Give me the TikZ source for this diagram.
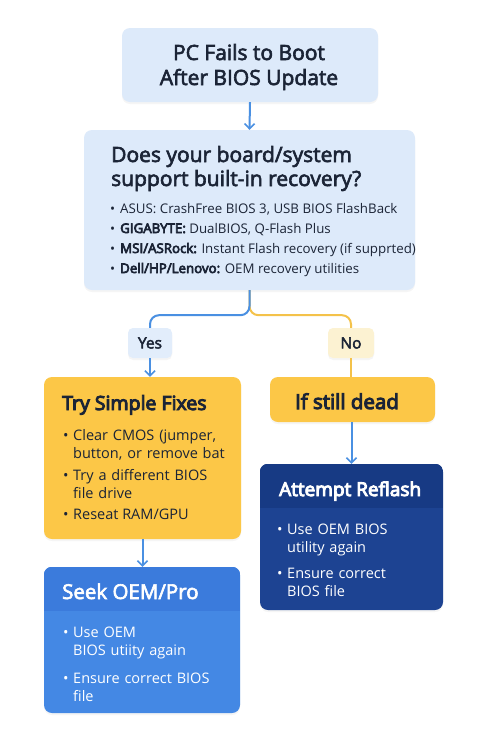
\documentclass[tikz,border=0pt]{standalone}
\usepackage{fontspec}
\setmainfont{Open Sans}
\newfontfamily\med[FakeBold=3]{Open Sans}
\newfontfamily\semi[FakeBold=5]{Open Sans}
\usetikzlibrary{arrows.meta,calc,shadows}
\definecolor{txt}{HTML}{1B2436}
\definecolor{lblue}{HTML}{DDEAFA}
\definecolor{yesbg}{HTML}{E2EDFB}
\definecolor{nobg}{HTML}{FCF2D2}
\definecolor{yel}{HTML}{FCC747}
\definecolor{yline}{HTML}{F4C24A}
\definecolor{bline}{HTML}{4A90E2}
\definecolor{dblue}{HTML}{1D4392}
\definecolor{dbluehd}{HTML}{173A84}
\definecolor{mblue}{HTML}{4488E4}
\definecolor{mbluehd}{HTML}{3B7BDC}
\tikzset{
  box/.style={rounded corners=8pt, inner sep=0pt, draw=none, drop shadow={opacity=0.08, shadow xshift=0pt, shadow yshift=-2pt}},
  tx/.style={inner sep=0pt, anchor=base west, text=txt},
  wtx/.style={inner sep=0pt, anchor=base west, text=white},
  barrow/.style={draw=bline, line width=2pt, -{Straight Barb[length=5pt,width=10pt,line width=1.6pt]}},
  bln/.style={draw=bline, line width=2pt},
  yln/.style={draw=yline, line width=2pt},
}
\newcommand{\bul}{\makebox[10pt][l]{\textbullet}}
\begin{document}
\begin{tikzpicture}[x=1pt,y=-1pt]
\useasboundingbox (0,0) rectangle (500,750);
\fill[white] (0,0) rectangle (500,750);

% top box
\node[box, fill=lblue, minimum width=256pt, minimum height=74pt] (top) at (250,65) {};
\node[inner sep=0pt, text=txt, align=center, font=\fontsize{21}{25}\selectfont\med, anchor=base] (toptx) at (249,85) {PC Fails to Boot\\After BIOS Update};

% question box
\node[box, fill=lblue, minimum width=331pt, minimum height=160pt] (q) at (249.5,210) {};
\node[tx, font=\fontsize{21}{23}\selectfont\med] (qtx) at (111,162) {Does your board/system};
\node[tx, font=\fontsize{21}{23}\selectfont\med] (qtx2) at (111,186) {support built-in recovery?};
\node[tx, font=\fontsize{13.3}{15}\selectfont] (q1) at (110,213) {\bul ASUS: CrashFree BIOS 3, USB BIOS FlashBack};
\node[tx, font=\fontsize{13.3}{15}\selectfont] (q2) at (110,233) {\bul{\semi GIGABYTE:} DualBIOS, Q-Flash Plus};
\node[tx, font=\fontsize{13.3}{15}\selectfont] (q3) at (110,253) {\bul{\semi MSI/ASRock:} Instant Flash recovery (if supprted)};
\node[tx, font=\fontsize{13.3}{15}\selectfont] (q4) at (110,273) {\bul{\semi Dell/HP/Lenovo:} OEM recovery utilities};

% yes / no labels
\node[box, rounded corners=5pt, fill=yesbg, minimum width=44pt, minimum height=30pt, text=txt, font=\fontsize{15.5}{18}\selectfont\med] (yes) at (150,343) {Yes};
\node[box, rounded corners=5pt, fill=nobg, minimum width=46pt, minimum height=30pt, text=txt, font=\fontsize{15.5}{18}\selectfont\med] (no) at (351,343) {No};

% try simple fixes
\node[box, fill=yel, minimum width=197pt, minimum height=162pt] (try) at (142.5,458) {};
\node[tx, font=\fontsize{19.5}{22}\selectfont\semi] (trytx) at (62,410) {Try Simple Fixes};
\node[tx, font=\fontsize{14.5}{18}\selectfont, text width=170pt, align=left] (t1) at (63,440) {\bul Clear CMOS (jumper,\\\hspace*{10pt}button, or remove bat};
\node[tx, font=\fontsize{14.5}{18}\selectfont, text width=170pt, align=left] (t2) at (63,480) {\bul Try a different BIOS\\\hspace*{10pt}file drive};
\node[tx, font=\fontsize{14.5}{18}\selectfont] (t3) at (63,519) {\bul Reseat RAM/GPU};

% if still dead
\node[box, fill=yel, minimum width=165pt, minimum height=45pt] (dead) at (352.5,399.5) {};
\node[inner sep=0pt, text=txt, font=\fontsize{20.5}{24}\selectfont\semi, anchor=base] (deadtx) at (347,409) {If still dead};

% attempt reflash
\node[box, fill=dblue, minimum width=183pt, minimum height=146pt] (att) at (351.5,537) {};
\begin{scope}
\clip[rounded corners=8pt] (att.north west) rectangle (att.south east);
\fill[dbluehd] (att.north west) rectangle ($(att.north east)+(0,44)$);
\end{scope}
\node[wtx, font=\fontsize{19}{22}\selectfont\semi] (atttx) at (279,496) {Attempt Reflash};
\node[wtx, font=\fontsize{14.5}{18}\selectfont, text width=160pt, align=left] (a1) at (277,534) {\bul Use OEM BIOS\\\hspace*{10pt}utility again};
\node[wtx, font=\fontsize{14.5}{18}\selectfont, text width=160pt, align=left] (a2) at (277,578) {\bul Ensure correct\\\hspace*{10pt}BIOS file};

% seek oem
\node[box, fill=mblue, minimum width=196pt, minimum height=146pt] (seek) at (142,640) {};
\begin{scope}
\clip[rounded corners=8pt] (seek.north west) rectangle (seek.south east);
\fill[mbluehd] (seek.north west) rectangle ($(seek.north east)+(0,44)$);
\end{scope}
\node[wtx, font=\fontsize{20.5}{22}\selectfont\med] (seektx) at (62,599) {Seek OEM/Pro};
\node[wtx, font=\fontsize{14.5}{18}\selectfont, text width=160pt, align=left] (s1) at (63,637) {\bul Use OEM\\\hspace*{10pt}BIOS utiity again};
\node[wtx, font=\fontsize{14.5}{18}\selectfont, text width=160pt, align=left] (s2) at (63,683) {\bul Ensure correct BIOS\\\hspace*{10pt}file};

% connectors
\draw[barrow] (top.south) -- (q.north);
\draw[yln, rounded corners=9pt] (q.south) -- ($(q.south)+(0,25)$) -| (no.north);
\draw[bln, rounded corners=9pt] (q.south) -- ($(q.south)+(0,25)$) -| (yes.north);
\draw[barrow] (yes.south) -- (yes.south |- try.north);
\draw[yln] (no.south) -- (no.south |- dead.north);
\draw[barrow] (dead.south -| att.north) -- (att.north);
\draw[barrow] (try.south) -- (try.south |- seek.north);
\end{tikzpicture}
\end{document}
